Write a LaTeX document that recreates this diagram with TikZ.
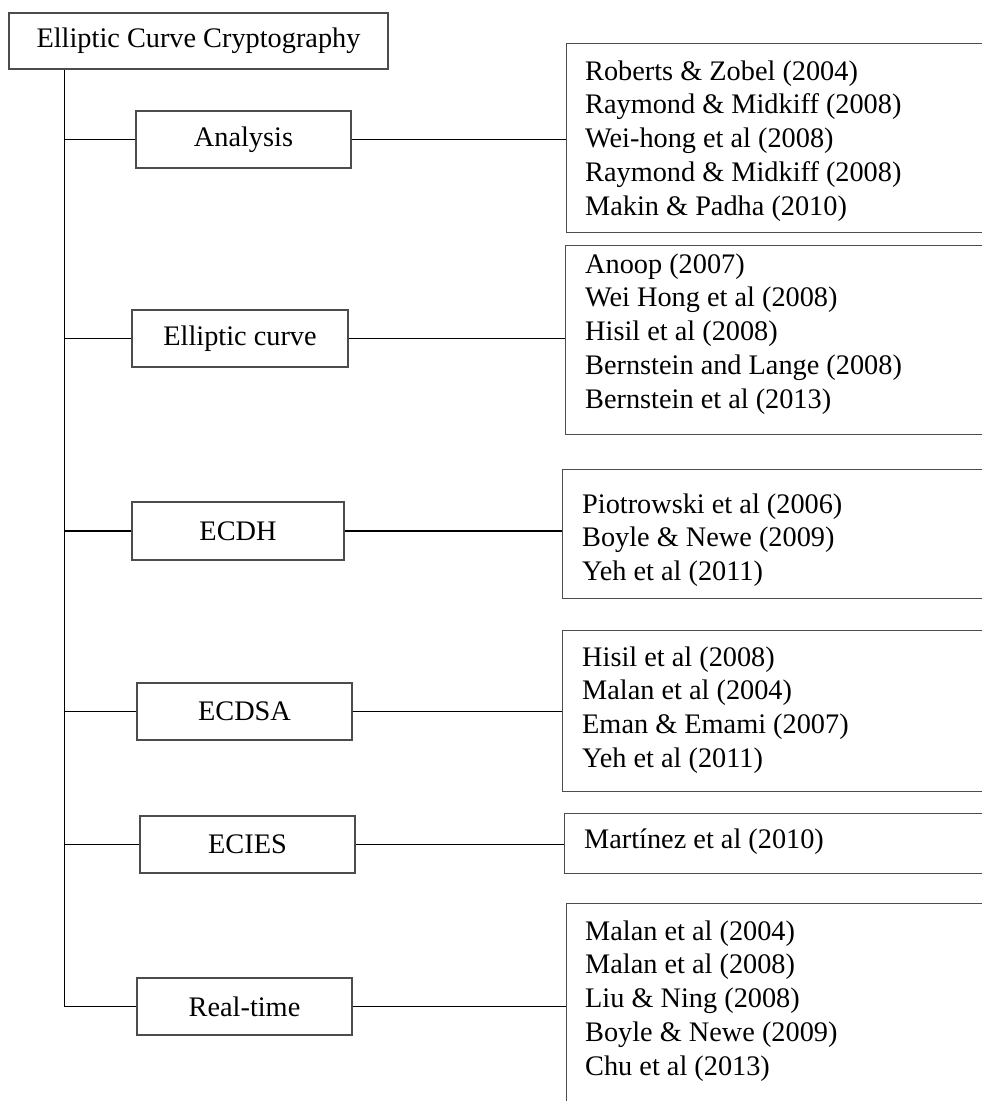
\documentclass[tikz,border=0pt]{standalone}
\usepackage{fontspec}
\setmainfont{Liberation Serif}
\begin{document}
\begin{tikzpicture}[x=1pt,y=-1pt,
  catbox/.style={draw=black!70, line width=1.2pt, minimum width=215pt, minimum height=57pt, inner sep=0pt, font=\fontsize{28.3}{33.8}\selectfont},
  refbox/.style={draw=black!70, line width=1.2pt, anchor=north west, minimum width=440pt, inner sep=0pt},
  reftext/.style={anchor=base west, inner sep=0pt, font=\fontsize{28.3}{33.8}\selectfont},
  conn/.style={line width=1.8pt, draw=black}]
\useasboundingbox (0,0) rectangle (982,1101);
\clip (0,0) rectangle (982,1101);

% title
\node[catbox, minimum width=379pt, minimum height=56pt] (title) at (198.5,41) {Elliptic Curve Cryptography};
\coordinate (trunk) at ([xshift=56pt]title.south west);

% categories
\node[catbox] (an) at (243.5,139.5) {Analysis};
\node[catbox, minimum width=216pt] (ec) at (240,338.5) {Elliptic curve};
\node[catbox, minimum width=212pt, minimum height=58pt] (dh) at (238,531) {ECDH};
\node[catbox] (dsa) at (244.5,711.5) {ECDSA};
\node[catbox] (ies) at (247.5,844.5) {ECIES};
\node[catbox] (rt) at (244.5,1006.5) {Real-time};

% reference boxes
\node[refbox, minimum height=189pt] (r1) at (566,43) {};
\node[refbox, minimum height=189pt] (r2) at (565,245) {};
\node[refbox, minimum height=129pt] (r3) at (562,469) {};
\node[refbox, minimum height=161pt] (r4) at (562,630) {};
\node[refbox, minimum height=60pt] (r5) at (564,813) {};
\node[refbox, minimum height=230pt] (r6) at (566,903) {};

\node[reftext] (t1) at (585,80) {\parbox[t]{390pt}{\raggedright Roberts \& Zobel (2004)\\Raymond \& Midkiff (2008)\\Wei-hong et al (2008)\\Raymond \& Midkiff (2008)\\Makin \& Padha (2010)}};
\node[reftext] (t2) at (585,273) {\parbox[t]{390pt}{\raggedright Anoop (2007)\\Wei Hong et al (2008)\\Hisil et al (2008)\\Bernstein and Lange (2008)\\Bernstein et al (2013)}};
\node[reftext] (t3) at (582,513) {\parbox[t]{390pt}{\raggedright Piotrowski et al (2006)\\Boyle \& Newe (2009)\\Yeh et al (2011)}};
\node[reftext] (t4) at (582,666) {\parbox[t]{390pt}{\raggedright Hisil et al (2008)\\Malan et al (2004)\\Eman \& Emami (2007)\\Yeh et al (2011)}};
\node[reftext] (t5) at (584,848) {Martínez et al (2010)};
\node[reftext] (t6) at (585,940) {\parbox[t]{390pt}{\raggedright Malan et al (2004)\\Malan et al (2008)\\Liu \& Ning (2008)\\Boyle \& Newe (2009)\\Chu et al (2013)}};

% trunk and branches
\draw[conn] (trunk) |- (rt.west);
\foreach \n in {an,ec,dh,dsa,ies}
  \draw[conn] (\n.west -| trunk) -- (\n.west);

% connectors to reference boxes
\draw[conn] (an.east) -- (an.east -| r1.west);
\draw[conn] (ec.east) -- (ec.east -| r2.west);
\draw[conn] (dh.east) -- (dh.east -| r3.west);
\draw[conn] (dsa.east) -- (dsa.east -| r4.west);
\draw[conn] (ies.east) -- (ies.east -| r5.west);
\draw[conn] (rt.east) -- (rt.east -| r6.west);
\end{tikzpicture}
\end{document}
